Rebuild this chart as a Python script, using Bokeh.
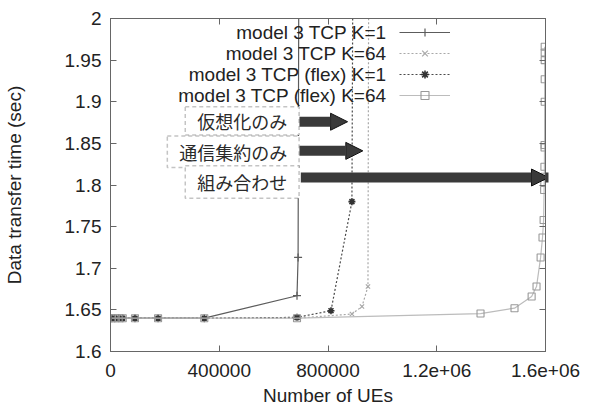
from bokeh.plotting import figure
from bokeh.models import (FixedTicker, LinearAxis, Range1d, Label, BoxAnnotation,
                          Arrow, NormalHead, Legend, LegendItem)
from bokeh.embed import file_html
from bokeh.resources import INLINE

# ---------------- data ----------------
x_k1 = [5000, 15000, 30000, 45000, 90000, 175000, 345000, 686000, 690000, 693000]
y_k1 = [1.64, 1.64, 1.64, 1.64, 1.64, 1.64, 1.64, 1.667, 1.713, 2.1]

x_k64 = [5000, 15000, 30000, 45000, 90000, 175000, 345000, 686000, 888000, 925000, 947000, 950000]
y_k64 = [1.64, 1.64, 1.64, 1.64, 1.64, 1.64, 1.64, 1.64, 1.645, 1.654, 1.678, 2.1]

x_flex1 = [5000, 15000, 30000, 45000, 90000, 175000, 345000, 686000, 811000, 888000, 892000]
y_flex1 = [1.64, 1.64, 1.64, 1.64, 1.64, 1.64, 1.64, 1.641, 1.649, 1.78, 2.1]

x_flex64 = [5000, 15000, 30000, 45000, 90000, 175000, 345000, 686000, 1361000, 1486000,
            1549000, 1567000, 1582000, 1589000, 1593000, 1595000, 1595500, 1596000,
            1596000, 1596500, 1596500, 1597000, 1597000, 1597000, 1597000, 1597000]
y_flex64 = [1.64, 1.64, 1.64, 1.64, 1.64, 1.64, 1.64, 1.64, 1.6456, 1.652,
            1.666, 1.678, 1.713, 1.737, 1.758, 1.794, 1.803, 1.81,
            1.822, 1.845, 1.848, 1.9, 1.927, 1.95, 1.959, 1.966]

series_names = ["model 3 TCP K=1", "model 3 TCP K=64",
                "model 3 TCP (flex) K=1", "model 3 TCP (flex) K=64"]

x_ticks = [0, 400000, 800000, 1200000, 1600000]
x_tick_labels = ["0", "400000", "800000", "1.2e+06", "1.6e+06"]
y_ticks = [1.6, 1.65, 1.7, 1.75, 1.8, 1.85, 1.9, 1.95, 2.0]
y_tick_labels = ["1.6", "1.65", "1.7", "1.75", "1.8", "1.85", "1.9", "1.95", "2"]

# annotation boxes / arrows
box_texts = ["仮想化のみ", "通信集約のみ", "組み合わせ"]
box_left = [275000, 209000, 275000]
box_right = [693600, 693600, 693600]
box_top = [1.894, 1.859, 1.823]
box_bottom = [1.860, 1.821, 1.784]
arrow_y = [1.876, 1.841, 1.809]
arrow_x_start = [695000, 695000, 700000]
arrow_x_end = [872000, 928000, 1611000]

# ---------------- figure ----------------
FONT = "Liberation Sans"
FS = "19px"
p = figure(width=600, height=408, output_backend="svg", toolbar_location=None,
           x_range=Range1d(0, 1.6e6), y_range=Range1d(1.6, 2.0),
           min_border_left=108, min_border_right=55, min_border_top=18,
           min_border_bottom=56, x_axis_label="Number of UEs",
           y_axis_label="Data transfer time (sec)")
p.xgrid.visible = False
p.ygrid.visible = False
p.outline_line_color = "#666666"
p.background_fill_color = "white"
p.border_fill_color = "white"

AX_COL = "#666666"
for ax, ticks, labels in [(p.xaxis[0], x_ticks, x_tick_labels),
                          (p.yaxis[0], y_ticks, y_tick_labels)]:
    ax.ticker = FixedTicker(ticks=ticks)
    ax.major_label_overrides = {t: l for t, l in zip(ticks, labels)}
    ax.major_tick_in = 6
    ax.major_tick_out = 0
    ax.minor_tick_in = 0
    ax.minor_tick_out = 0
    ax.axis_line_color = AX_COL
    ax.major_tick_line_color = AX_COL
    ax.major_label_text_font = FONT
    ax.major_label_text_font_size = FS
    ax.major_label_text_color = "#222222"
    ax.axis_label_text_font = FONT
    ax.axis_label_text_font_size = FS
    ax.axis_label_text_font_style = "normal"
    ax.axis_label_text_color = "#222222"
p.xaxis[0].major_label_standoff = 12
p.xaxis[0].axis_label_standoff = 5
p.yaxis[0].major_label_standoff = 9
p.yaxis[0].axis_label_standoff = 37

# mirrored ticks on top and right
for loc, ticks in [("above", x_ticks), ("right", y_ticks)]:
    ax = LinearAxis(ticker=FixedTicker(ticks=ticks),
                    major_label_overrides={t: "" for t in ticks})
    ax.major_tick_in = 6
    ax.major_tick_out = 0
    ax.minor_tick_in = 0
    ax.minor_tick_out = 0
    ax.axis_line_color = AX_COL
    ax.major_tick_line_color = AX_COL
    ax.major_label_standoff = 0
    ax.major_label_text_font_size = "1px"
    p.add_layout(ax, loc)

# ---------------- series ----------------
c1, c2, c3, c4 = "#5c5c5c", "#a8a8a8", "#4a4a4a", "#bcbcbc"
r1 = p.line(x_k1, y_k1, line_color=c1, line_width=1.2)
s1 = p.scatter(x_k1, y_k1, marker="cross", size=8, line_color=c1, line_width=1.2)
r2 = p.line(x_k64, y_k64, line_color=c2, line_width=1.2, line_dash="2 2")
s2 = p.scatter(x_k64, y_k64, marker="x", size=6, line_color=c2, line_width=1.2)
r3 = p.line(x_flex1, y_flex1, line_color=c3, line_width=1.2, line_dash="2 2")
s3 = p.scatter(x_flex1, y_flex1, marker="asterisk", size=7, line_color="#333333", line_width=1.6)
r4 = p.line(x_flex64, y_flex64, line_color=c4, line_width=1.2)
s4 = p.scatter(x_flex64, y_flex64, marker="square", size=7, line_color="#999999",
               fill_color=None, line_width=1.1)

# legend glyphs (text drawn separately, right-aligned, left of samples)
legend = Legend(items=[LegendItem(label="", renderers=[r, s])
                       for r, s in [(r1, s1), (r2, s2), (r3, s3), (r4, s4)]],
                location=(289, 246), glyph_width=51, glyph_height=20, spacing=1,
                padding=0, margin=0, label_standoff=0, label_width=0,
                label_text_font_size="1px", border_line_color=None,
                background_fill_color=None)
p.add_layout(legend)

legend_y = [1.983, 1.958, 1.933, 1.908]
for name, ly in zip(series_names, legend_y):
    p.add_layout(Label(x=1016000, y=ly, text=name, text_align="right",
                       text_baseline="middle", text_font=FONT, text_font_size=FS,
                       text_color="#222222"))

# ---------------- annotations ----------------
for xs, xe, ay in zip(arrow_x_start, arrow_x_end, arrow_y):
    p.add_layout(Arrow(end=NormalHead(size=17, fill_color="#3a3a3a", line_color="#111111",
                                      line_width=1),
                       x_start=xs, y_start=ay, x_end=xe, y_end=ay,
                       line_width=10, line_color="#3a3a3a"))

for t, bl, br, bt, bb in zip(box_texts, box_left, box_right, box_top, box_bottom):
    p.add_layout(BoxAnnotation(left=bl, right=br, top=bt, bottom=bb,
                               fill_color="white", fill_alpha=1.0,
                               line_color="#3c3c3c", line_width=1.5,
                               line_dash="4 3"))
    p.add_layout(Label(x=(bl + br) / 2, y=(bt + bb) / 2, text=t, text_align="center",
                       text_baseline="middle", text_font="Noto Sans CJK JP",
                       text_font_size="18px", text_color="#2a2a2a"))

open("out.html", "w").write(file_html(p, INLINE))
